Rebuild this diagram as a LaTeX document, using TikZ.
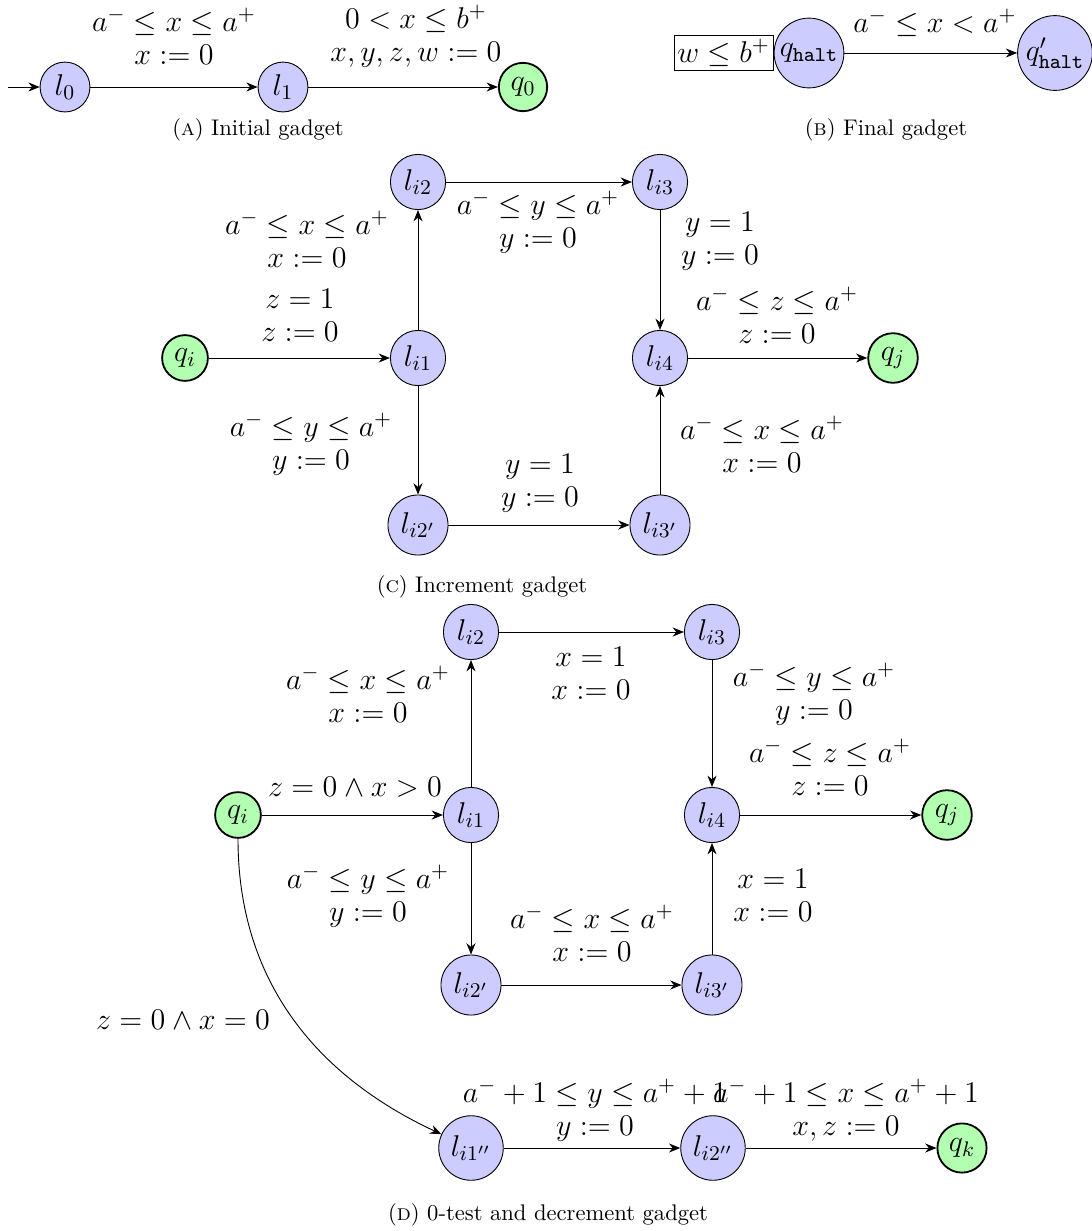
\RequirePackage{fix-cm}
\documentclass[tikz,border=0pt]{standalone}
\usetikzlibrary{arrows.meta}
\newcommand\labfont{\fontsize{13.3}{14.6}\selectfont}
\tikzset{
  loc/.style={circle, draw, fill=blue!20, inner sep=2.7pt, font=\labfont},
  fin/.style={circle, draw, thick, fill=green!30, inner sep=2.7pt, font=\labfont},
  lab/.style={font=\labfont, align=center, inner sep=0pt},
  captext/.style={font=\normalsize, inner sep=0pt},
  tr/.style={-{Stealth[length=5pt,width=4pt]}},
}
\begin{document}
\begin{tikzpicture}[x=0.4425pt, y=-0.4425pt]
\useasboundingbox (0,0) rectangle (1092,1231);
% ---------- (A) ----------
\node[loc] (l0) at (65,87) {$l_0$};
\node[loc] (l1) at (283,87) {$l_1$};
\node[fin] (q0) at (523,87) {$q_0$};
\coordinate (st) at (8,87);
\draw[tr] (st) -- (l0);
\draw[tr] (l0) -- (l1);
\draw[tr] (l1) -- (q0);
\node[lab] (la1) at (174,36) {$a^- \le x \le a^+$\\$x := 0$};
\node[lab] (la2) at (416,36) {$0 < x \le b^+$\\$x, y, z, w := 0$};
\node[captext] (capA) at (258,130) {(\textsc{a}) Initial gadget};
% ---------- (B) ----------
\node[loc, inner sep=1.5pt] (qh) at (809,53) {$q_{\mathtt{halt}}$};
\node[loc, inner sep=1.5pt] (qhp) at (1055,53) {$q'_{\mathtt{halt}}$};
\node[draw, font=\labfont, inner sep=1.5pt, anchor=east] (inv) at (qh.west) {$w \le b^+$};
\draw[tr] (qh) -- (qhp);
\node[lab] (lb1) at (935,23) {$a^- \le x < a^+$};
\node[captext] (capB) at (886,130) {(\textsc{b}) Final gadget};
% ---------- (C) ----------
\node[fin] (cqi) at (185,358) {$q_i$};
\node[loc] (ci1) at (418,358) {$l_{i1}$};
\node[loc] (ci2) at (418,182) {$l_{i2}$};
\node[loc] (ci3) at (660,182) {$l_{i3}$};
\node[loc] (ci4) at (660,358) {$l_{i4}$};
\node[fin] (cqj) at (893,358) {$q_j$};
\node[loc] (ci2p) at (418,525) {$l_{i2'}$};
\node[loc] (ci3p) at (660,525) {$l_{i3'}$};
\draw[tr] (cqi) -- (ci1);
\draw[tr] (ci1) -- (ci2);
\draw[tr] (ci2) -- (ci3);
\draw[tr] (ci3) -- (ci4);
\draw[tr] (ci4) -- (cqj);
\draw[tr] (ci1) -- (ci2p);
\draw[tr] (ci2p) -- (ci3p);
\draw[tr] (ci3p) -- (ci4);
\node[lab] (lc1) at (300,315) {$z = 1$\\$z := 0$};
\node[lab] (lc2) at (307,239) {$a^- \le x \le a^+$\\$x := 0$};
\node[lab] (lc3) at (538,222) {$a^- \le y \le a^+$\\$y := 0$};
\node[lab] (lc4) at (720,241) {$y = 1$\\$y := 0$};
\node[lab] (lc5) at (777,315) {$a^- \le z \le a^+$\\$z := 0$};
\node[lab] (lc6) at (311,444) {$a^- \le y \le a^+$\\$y := 0$};
\node[lab] (lc7) at (540,483) {$y = 1$\\$y := 0$};
\node[lab] (lc8) at (762,444) {$a^- \le x \le a^+$\\$x := 0$};
\node[captext] (capC) at (482,587) {(\textsc{c}) Increment gadget};
% ---------- (D) ----------
\node[fin] (dqi) at (238,815) {$q_i$};
\node[loc] (di1) at (471,815) {$l_{i1}$};
\node[loc] (di2) at (471,632) {$l_{i2}$};
\node[loc] (di3) at (712,632) {$l_{i3}$};
\node[loc] (di4) at (712,815) {$l_{i4}$};
\node[fin] (dqj) at (947,815) {$q_j$};
\node[loc] (di2p) at (471,985) {$l_{i2'}$};
\node[loc] (di3p) at (712,985) {$l_{i3'}$};
\node[loc] (di1pp) at (471,1148) {$l_{i1''}$};
\node[loc] (di2pp) at (713,1148) {$l_{i2''}$};
\node[fin] (dqk) at (962,1148) {$q_k$};
\draw[tr] (dqi) -- (di1);
\draw[tr] (di1) -- (di2);
\draw[tr] (di2) -- (di3);
\draw[tr] (di3) -- (di4);
\draw[tr] (di4) -- (dqj);
\draw[tr] (di1) -- (di2p);
\draw[tr] (di2p) -- (di3p);
\draw[tr] (di3p) -- (di4);
\draw[tr] (dqi) to[out=-90, in=155] (di1pp);
\draw[tr] (di1pp) -- (di2pp);
\draw[tr] (di2pp) -- (dqk);
\node[lab] (ld1) at (355,787) {$z = 0 \land x > 0$};
\node[lab] (ld2) at (368,694) {$a^- \le x \le a^+$\\$x := 0$};
\node[lab] (ld3) at (591,673) {$x = 1$\\$x := 0$};
\node[lab] (ld4) at (814,694) {$a^- \le y \le a^+$\\$y := 0$};
\node[lab] (ld5) at (830,767) {$a^- \le z \le a^+$\\$z := 0$};
\node[lab] (ld6) at (368,896) {$a^- \le y \le a^+$\\$y := 0$};
\node[lab] (ld7) at (592,933) {$a^- \le x \le a^+$\\$x := 0$};
\node[lab] (ld8) at (773,895) {$x = 1$\\$x := 0$};
\node[lab] (ld9) at (183,1020) {$z = 0 \land x = 0$};
\node[lab] (ld10) at (595,1110) {$a^- + 1 \le y \le a^+ + 1$\\$y := 0$};
\node[lab] (ld11) at (846,1110) {$a^- + 1 \le x \le a^+ + 1$\\$x, z := 0$};
\node[captext] (capD) at (548,1215) {(\textsc{d}) 0-test and decrement gadget};
\end{tikzpicture}
\end{document}
